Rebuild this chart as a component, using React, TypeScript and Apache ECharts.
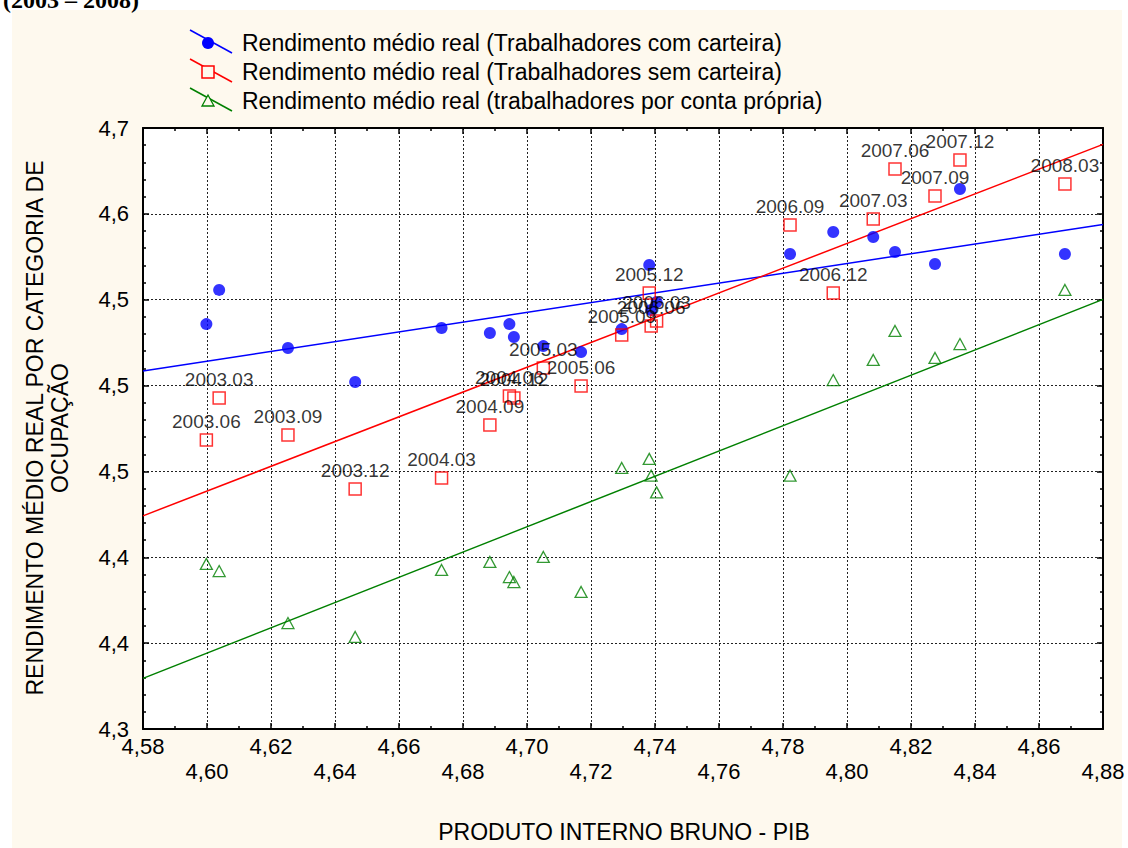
import React, { useEffect, useRef } from "react";
import * as echarts from "echarts";

// ---- data ----
const quarters = [
  "2003.03", "2003.06", "2003.09", "2003.12", "2004.03", "2004.06", "2004.09",
  "2004.12", "2005.03", "2005.06", "2005.09", "2005.12", "2006.03", "2006.06",
  "2006.09", "2006.12", "2007.03", "2007.06", "2007.09", "2007.12", "2008.03",
];
const pib = [
  4.6038, 4.5998, 4.6253, 4.6463, 4.6733, 4.6945, 4.6884,
  4.6959, 4.7051, 4.7169, 4.7296, 4.7382, 4.7405, 4.7388,
  4.7822, 4.7957, 4.8082, 4.815, 4.8275, 4.8353, 4.8681,
];
const comCarteira = [
  4.5557, 4.5358, 4.5219, 4.5021, 4.5335, 4.5358, 4.5306,
  4.5283, 4.523, 4.5195, 4.5329, 4.5702, 4.5487, 4.544,
  4.5766, 4.5894, 4.5865, 4.5778, 4.5708, 4.6145, 4.5766,
];
const semCarteira = [
  4.4928, 4.4683, 4.4712, 4.4398, 4.4462, 4.4939, 4.477,
  4.4928, 4.5102, 4.4997, 4.5294, 4.5539, 4.5376, 4.5347,
  4.5935, 4.5539, 4.597, 4.6261, 4.6104, 4.6314, 4.6174,
];
const contaPropria = [
  4.392, 4.3961, 4.3617, 4.3536, 4.3926, 4.3885, 4.3973,
  4.3856, 4.4002, 4.3798, 4.452, 4.4573, 4.4378, 4.4475,
  4.4475, 4.5032, 4.5149, 4.5318, 4.5161, 4.5242, 4.5557,
];
const yTickLabels = ["4,3", "4,4", "4,4", "4,5", "4,5", "4,5", "4,6", "4,7"];
const seriesNames = [
  "Rendimento médio real (Trabalhadores com carteira)",
  "Rendimento médio real (Trabalhadores sem carteira)",
  "Rendimento médio real (trabalhadores por conta própria)",
];
const X_MIN = 4.58;
const X_MAX = 4.88;
const X_STEP = 0.02;
const Y_MIN = 4.3;
const Y_STEP = 0.05;

const FONT = '"Liberation Sans", Arial, Helvetica, sans-serif';
const BLUE = "#0000ff";
const RED = "#ff0000";
const GREEN = "#008000";
const CREAM = "#fef9ee";

function fitLine(xs: number[], ys: number[]) {
  const n = xs.length;
  const mx = xs.reduce((a, b) => a + b, 0) / n;
  const my = ys.reduce((a, b) => a + b, 0) / n;
  let sxy = 0;
  let sxx = 0;
  for (let i = 0; i < n; i++) {
    sxy += (xs[i] - mx) * (ys[i] - my);
    sxx += (xs[i] - mx) * (xs[i] - mx);
  }
  const b = sxy / sxx;
  const a = my - b * mx;
  return [
    [X_MIN, a + b * X_MIN],
    [X_MAX, a + b * X_MAX],
  ];
}

export default function App() {
  const ref = useRef<HTMLDivElement>(null);

  useEffect(() => {
    if (!ref.current) return;
    const chart = echarts.init(ref.current, null, { renderer: "svg" });
    const Y_MAX = Y_MIN + (yTickLabels.length - 1) * Y_STEP;

    const pts = (ys: number[]) => pib.map((x, i) => [x, ys[i]]);

    const axisLineStyle = { color: "#000", width: 2 };
    const tickStyle = { color: "#000", width: 1.5 };
    const gridLineStyle = { color: "#222", width: 1, type: [2, 2] as any };

    const legendRows = [43, 72, 101];
    const legendGraphics: any[] = [];
    const colors = [BLUE, RED, GREEN];
    legendRows.forEach((c, i) => {
      legendGraphics.push({
        type: "line",
        shape: { x1: 190, y1: c - 13, x2: 232, y2: c + 10 },
        style: { stroke: colors[i], lineWidth: 1.5 },
        z: 20,
      });
      if (i === 0) {
        legendGraphics.push({
          type: "circle",
          shape: { cx: 208, cy: c, r: 6 },
          style: { fill: BLUE },
          z: 21,
        });
      } else if (i === 1) {
        legendGraphics.push({
          type: "rect",
          shape: { x: 202, y: c - 6, width: 12, height: 12 },
          style: { fill: CREAM, stroke: RED, lineWidth: 1.5 },
          z: 21,
        });
      } else {
        legendGraphics.push({
          type: "polygon",
          shape: { points: [[208, c - 6], [214, c + 5], [202, c + 5]] },
          style: { fill: CREAM, stroke: GREEN, lineWidth: 1.3 },
          z: 21,
        });
      }
      legendGraphics.push({
        type: "text",
        x: 242,
        y: c,
        style: {
          text: seriesNames[i],
          fontSize: 23,
          fontFamily: FONT,
          fill: "#000",
          verticalAlign: "middle",
          align: "left",
        },
        z: 21,
      });
    });

    const option: any = {
      animation: false,
      backgroundColor: "#ffffff",
      graphic: [
        {
          type: "rect",
          shape: { x: 12, y: 10, width: 1110, height: 848 },
          style: { fill: CREAM },
          z: -100,
          silent: true,
        },
        {
          type: "text",
          x: 3,
          y: 0,
          style: {
            text: "(2003 – 2008)",
            fontSize: 24,
            fontWeight: "bold",
            fontFamily: '"Liberation Serif", "Times New Roman", serif',
            fill: "#000",
            verticalAlign: "middle",
            align: "left",
          },
          z: 20,
        },
        {
          type: "text",
          x: 47,
          y: 428,
          rotation: Math.PI / 2,
          style: {
            text: "RENDIMENTO MÉDIO REAL POR CATEGORIA DE\nOCUPAÇÃO",
            fontSize: 23,
            lineHeight: 25,
            fontFamily: FONT,
            fill: "#000",
            align: "center",
            verticalAlign: "middle",
          },
          z: 20,
        },
        {
          type: "text",
          x: 624,
          y: 832,
          style: {
            text: "PRODUTO INTERNO BRUNO - PIB",
            fontSize: 23,
            fontFamily: FONT,
            fill: "#000",
            align: "center",
            verticalAlign: "middle",
          },
          z: 20,
        },
        ...legendGraphics,
      ],
      grid: {
        left: 143,
        top: 128,
        width: 960,
        height: 601,
        show: true,
        backgroundColor: "#ffffff",
        borderWidth: 0,
        containLabel: false,
      },
      xAxis: [
        {
          type: "value",
          position: "bottom",
          min: X_MIN,
          max: X_MAX,
          interval: X_STEP,
          axisLine: { show: true, onZero: false, lineStyle: axisLineStyle },
          axisTick: { show: true, inside: true, length: 6, lineStyle: tickStyle },
          minorTick: { show: true, splitNumber: 2, length: 3, lineStyle: tickStyle },
          splitLine: { show: true, lineStyle: gridLineStyle },
          axisLabel: {
            show: true,
            color: "#000",
            fontSize: 22,
            fontFamily: FONT,
            margin: 5,
            lineHeight: 25,
            formatter: (v: number, idx: number) => {
              const s = v.toFixed(2).replace(".", ",");
              return idx % 2 === 1 ? "\n" + s : s;
            },
          },
        },
        {
          type: "value",
          position: "top",
          min: X_MIN,
          max: X_MAX,
          interval: X_STEP,
          axisLine: { show: true, onZero: false, lineStyle: axisLineStyle },
          axisTick: { show: true, inside: true, length: 6, lineStyle: tickStyle },
          minorTick: { show: true, splitNumber: 2, length: 3, lineStyle: tickStyle },
          splitLine: { show: false },
          axisLabel: { show: false },
        },
      ],
      yAxis: [
        {
          type: "value",
          position: "left",
          min: Y_MIN,
          max: Y_MAX,
          interval: Y_STEP,
          axisLine: { show: true, onZero: false, lineStyle: axisLineStyle },
          axisTick: { show: true, inside: true, length: 6, lineStyle: tickStyle },
          minorTick: { show: true, splitNumber: 5, length: 3, lineStyle: tickStyle },
          splitLine: { show: true, lineStyle: gridLineStyle },
          axisLabel: {
            show: true,
            color: "#000",
            fontSize: 22,
            fontFamily: FONT,
            margin: 14,
            formatter: (v: number) => {
              const k = Math.round((v - Y_MIN) / Y_STEP);
              return yTickLabels[k] ?? "";
            },
          },
        },
        {
          type: "value",
          position: "right",
          min: Y_MIN,
          max: Y_MAX,
          interval: Y_STEP,
          axisLine: { show: true, onZero: false, lineStyle: axisLineStyle },
          axisTick: { show: true, inside: true, length: 6, lineStyle: tickStyle },
          minorTick: { show: true, splitNumber: 5, length: 3, lineStyle: tickStyle },
          splitLine: { show: false },
          axisLabel: { show: false },
        },
      ],
      series: [
        {
          name: seriesNames[2] + " (ajuste)",
          type: "line",
          data: fitLine(pib, contaPropria),
          symbol: "none",
          lineStyle: { color: GREEN, width: 1.5 },
          silent: true,
          z: 2,
        },
        {
          name: seriesNames[0] + " (ajuste)",
          type: "line",
          data: fitLine(pib, comCarteira),
          symbol: "none",
          lineStyle: { color: BLUE, width: 1.5 },
          silent: true,
          z: 2,
        },
        {
          name: seriesNames[1] + " (ajuste)",
          type: "line",
          data: fitLine(pib, semCarteira),
          symbol: "none",
          lineStyle: { color: RED, width: 1.5 },
          silent: true,
          z: 2,
        },
        {
          name: seriesNames[2],
          type: "scatter",
          data: pts(contaPropria),
          symbol: "triangle",
          symbolSize: [12, 11],
          itemStyle: { color: "rgba(255,255,255,0)", borderColor: GREEN, borderWidth: 1.3 },
          z: 3,
        },
        {
          name: seriesNames[0],
          type: "scatter",
          data: pts(comCarteira),
          symbol: "circle",
          symbolSize: 12,
          itemStyle: { color: BLUE },
          z: 3,
        },
        {
          name: seriesNames[1],
          type: "scatter",
          data: pts(semCarteira),
          symbol: "rect",
          symbolSize: 12,
          itemStyle: { color: "rgba(255,255,255,0)", borderColor: RED, borderWidth: 1.5 },
          label: {
            show: true,
            position: "top",
            distance: 2,
            color: "#000",
            fontSize: 19,
            fontFamily: FONT,
            formatter: (p: any) => quarters[p.dataIndex],
          },
          z: 4,
        },
      ],
    };

    chart.setOption(option);
    return () => {
      chart.dispose();
    };
  }, []);

  return (
    <div
      ref={ref}
      style={{ position: "absolute", left: 0, top: 0, width: 1128, height: 848 }}
    />
  );
}
